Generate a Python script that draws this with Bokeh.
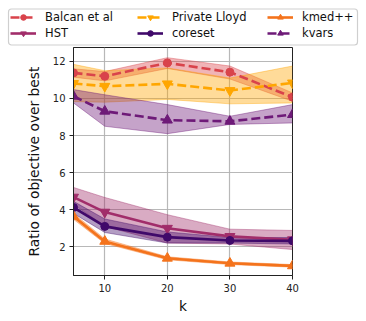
from bokeh.plotting import figure
from bokeh.models import Legend, LegendItem, Range1d, FixedTicker, BoxAnnotation
from bokeh.embed import file_html
from bokeh.resources import INLINE

k = [5, 10, 20, 30, 40]

balcan = [11.38, 11.2, 11.92, 11.42, 10.07]
balcan_lo = [11.15, 10.95, 11.62, 11.05, 9.85]
balcan_hi = [11.6, 11.45, 12.2, 11.75, 10.3]

hst = [4.68, 3.87, 3.0, 2.56, 2.38]
hst_lo = [4.3, 3.1, 2.2, 2.15, 1.85]
hst_hi = [5.2, 4.66, 3.73, 2.95, 2.88]

lloyd = [10.81, 10.66, 10.79, 10.43, 10.84]
lloyd_lo = [9.83, 9.8, 9.95, 9.71, 9.76]
lloyd_hi = [11.84, 11.5, 11.65, 11.1, 11.75]

coreset = [4.12, 3.1, 2.52, 2.34, 2.32]
coreset_lo = [3.8, 2.77, 2.2, 2.2, 2.15]
coreset_hi = [4.45, 3.5, 2.8, 2.5, 2.5]

kmed = [3.64, 2.29, 1.38, 1.11, 0.97]
kmed_lo = [3.48, 2.18, 1.3, 1.04, 0.9]
kmed_hi = [3.8, 2.42, 1.46, 1.18, 1.04]

kvars = [10.12, 9.31, 8.83, 8.77, 9.13]
kvars_lo = [9.76, 8.5, 8.1, 8.6, 8.68]
kvars_hi = [10.48, 10.2, 9.67, 9.04, 9.67]

series = [
    ("Balcan et al", balcan, balcan_lo, balcan_hi, "#d9434b", "dashed", "circle"),
    ("HST", hst, hst_lo, hst_hi, "#a12d6a", "solid", "inverted_triangle"),
    ("Private Lloyd", lloyd, lloyd_lo, lloyd_hi, "#ffa600", "dashed", "inverted_triangle"),
    ("coreset", coreset, coreset_lo, coreset_hi, "#40096a", "solid", "circle"),
    ("kmed++", kmed, kmed_lo, kmed_hi, "#f4731c", "solid", "triangle"),
    ("kvars", kvars, kvars_lo, kvars_hi, "#6e1a78", "dashed", "triangle"),
]
# legend columns (two entries each)
legend_columns = [["Balcan et al", "HST"], ["Private Lloyd", "coreset"], ["kmed++", "kvars"]]

FONT = "DejaVu Sans"
DASH = "9 4"

# ---------------- main plot ----------------
p = figure(width=366, height=275, output_backend="svg", toolbar_location=None,
           x_range=Range1d(5, 40), y_range=Range1d(0.45, 12.75),
           min_border_left=73, min_border_right=74, min_border_top=1, min_border_bottom=46)

for ax in (p.xaxis[0], p.yaxis[0]):
    ax.major_label_text_font = FONT
    ax.major_label_text_font_size = "10px"
    ax.major_label_text_color = "#222222"
    ax.axis_label_text_font = FONT
    ax.axis_label_text_font_size = "13.8px"
    ax.axis_label_text_font_style = "normal"
    ax.axis_label_text_color = "#111111"
    ax.minor_tick_line_color = None
    ax.major_tick_out = 4
    ax.major_tick_in = 0
    ax.axis_line_color = "#222222"
    ax.major_tick_line_color = "#222222"
    ax.major_label_standoff = 4
p.xaxis.ticker = FixedTicker(ticks=[10, 20, 30, 40])
p.yaxis.ticker = FixedTicker(ticks=[2, 4, 6, 8, 10, 12])
p.xaxis.axis_label = "k"
p.yaxis.axis_label = "Ratio of objective over best"
p.xaxis.axis_label_standoff = 3
p.yaxis.axis_label_standoff = 8
p.outline_line_color = "#222222"
p.grid.grid_line_color = "#b0b0b0"
p.grid.grid_line_width = 1.2
p.grid.grid_line_alpha = 0.9

for name, y, lo, hi, col, dash, mk in series:
    p.varea(x=k, y1=lo, y2=hi, fill_color=col, fill_alpha=0.4)
    p.line(x=k, y=lo, line_color=col, line_alpha=0.4, line_width=1)
    p.line(x=k, y=hi, line_color=col, line_alpha=0.4, line_width=1)

for name, y, lo, hi, col, dash, mk in series:
    p.line(x=k, y=y, line_color=col, line_width=2.6,
           line_dash=DASH if dash == "dashed" else "solid")
    p.scatter(x=k, y=y, marker=mk, size=10 if mk != "circle" else 8,
              fill_color=col, line_color=col)

# ---------------- legend strip ----------------
lg = figure(width=366, height=46, output_backend="svg", toolbar_location=None,
            x_range=Range1d(0, 366), y_range=Range1d(46, 0),
            x_axis_type=None, y_axis_type=None,
            min_border_left=0, min_border_right=0, min_border_top=0, min_border_bottom=0)
lg.outline_line_color = None
lg.grid.visible = False

box = BoxAnnotation(left=8, right=357, top=8.5, bottom=44.5, fill_color="white",
                    fill_alpha=0.8, line_color="#cfcfcf", line_width=1.2,
                    line_alpha=1, border_radius=3)
lg.add_layout(box)

entries = {}
for name, y, lo, hi, col, dash, mk in series:
    ln = lg.line(x=k[:1], y=[float("nan")], line_color=col, line_width=2.6,
                 line_dash=DASH if dash == "dashed" else "solid")
    sc = lg.scatter(x=k[:1], y=[float("nan")], marker=mk,
                    size=22 if mk != "circle" else 20,
                    fill_color=col, line_color=col)
    entries[name] = LegendItem(label=name, renderers=[ln, sc])

col_x = [10, 137, 267]
for cx, names in zip(col_x, legend_columns):
    lgd = Legend(items=[entries[n] for n in names], location=(cx, 6),
                 label_text_font=FONT, label_text_font_size="11.5px",
                 label_text_color="#111111",
                 glyph_width=26, glyph_height=14, label_height=14,
                 spacing=2, padding=0, margin=0, label_standoff=9,
                 border_line_color=None, background_fill_alpha=0)
    lg.add_layout(lgd, "center")

open("out.html", "w").write(file_html([lg, p], INLINE))
